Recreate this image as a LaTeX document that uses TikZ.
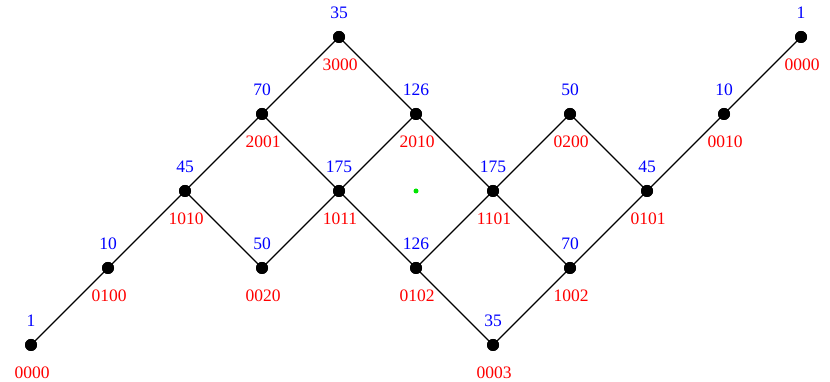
\documentclass[tikz,border=0pt]{standalone}
\usepackage{fontspec}
\setmainfont{Liberation Serif}
\begin{document}
\begin{tikzpicture}[x=1pt,y=1pt,
  dot/.style={circle,fill=black,inner sep=0pt,minimum size=12pt},
  edge/.style={line width=1.1pt},
  up/.style={text=blue,font=\fontsize{17.5}{19}\selectfont},
  dn/.style={text=red,font=\fontsize{17.5}{19}\selectfont}]
\useasboundingbox (0,0) rectangle (830,382);
\foreach \nm/\i/\py/\a/\b in {
  n0/0/345/1/0000, n1/1/268/10/0100, n2/2/191/45/1010, n3/3/268/50/0020,
  n4/3/114/70/2001, n5/4/37/35/3000, n6/4/191/175/1011, n7/5/114/126/2010,
  n8/5/268/126/0102, n9/6/191/175/1101, n10/6/345/35/0003, n11/7/114/50/0200,
  n12/7/268/70/1002, n13/8/191/45/0101, n14/9/114/10/0010, n15/10/37/1/0000}{
  \node[dot] (\nm) at ({31+77*\i},{382-\py}) {};
  \node[up] (\nm u) at ({31+77*\i},{382-\py+24}) {\a};
  \node[dn] (\nm d) at ({31+77*\i+1},{382-\py-28}) {\b};
}
\foreach \s/\t in {n0/n1,n1/n2,n2/n4,n2/n3,n4/n5,n4/n6,n3/n6,n5/n7,n6/n7,n6/n8,
  n7/n9,n8/n9,n8/n10,n9/n11,n9/n12,n10/n12,n11/n13,n12/n13,n13/n14,n14/n15}
  \draw[edge] (\s.center) -- (\t.center);
\foreach \nm in {n0,n1,n2,n3,n4,n5,n6,n7,n8,n9,n10,n11,n12,n13,n14,n15}
  \fill (\nm.center) circle (6pt);
\node[circle,fill=green!90!black,inner sep=0pt,minimum size=5pt] (g) at (416,191) {};
\end{tikzpicture}
\end{document}
